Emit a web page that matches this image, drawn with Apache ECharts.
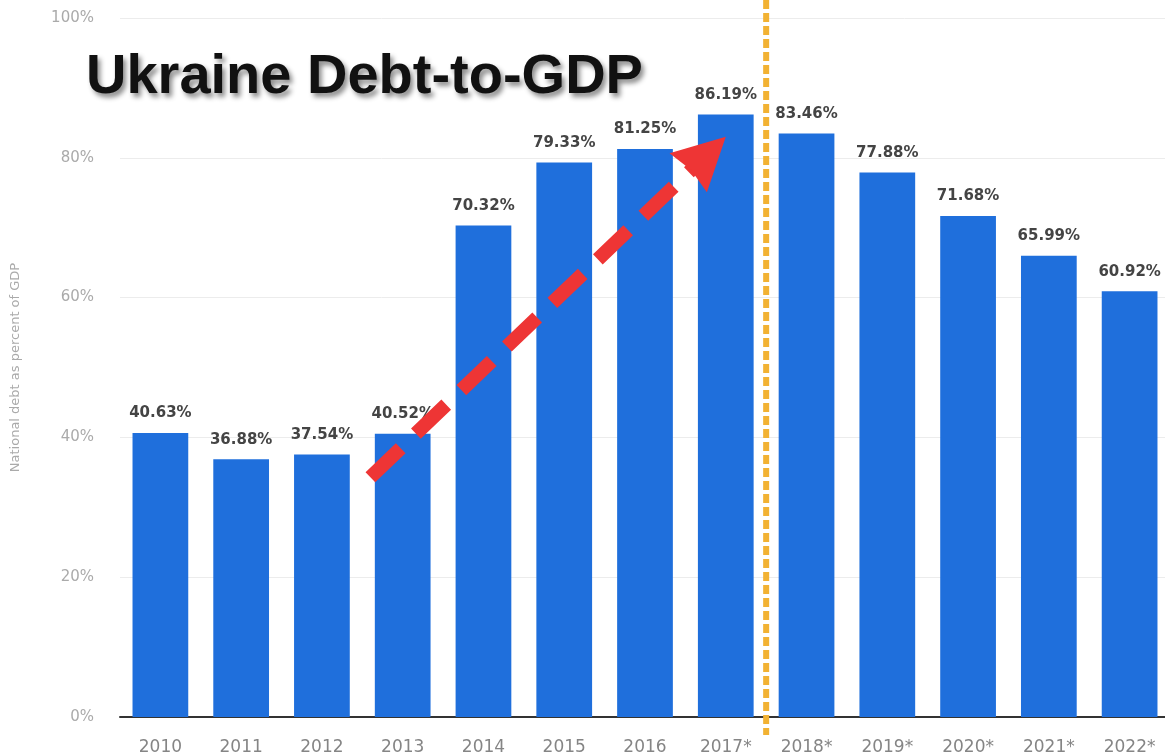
<!DOCTYPE html>
<html>
<head>
<meta charset="utf-8">
<script src="https://cdn.jsdelivr.net/npm/echarts@6/dist/echarts.min.js"></script>
<style>html,body{margin:0;padding:0;background:#fff;}#c{width:1165px;height:755px;}</style>
</head>
<body>
<div id="c"></div>
<script>
const categories = ['2010','2011','2012','2013','2014','2015','2016','2017*','2018*','2019*','2020*','2021*','2022*'];
const debtPct = [40.63, 36.88, 37.54, 40.52, 70.32, 79.33, 81.25, 86.19, 83.46, 77.88, 71.68, 65.99, 60.92];
const yTicks = [0, 20, 40, 60, 80, 100];
// annotation positions in data space (category index, percent)
const arrowFrom = [2.6, 34.3];
const arrowTip = [7.0, 83.0];
const dividerAt = 7.5;

const chart = echarts.init(document.getElementById('c'), null, {renderer: 'canvas'});
const option = {
  animation: false,
  backgroundColor: '#ffffff',
  title: {
    text: 'Ukraine Debt-to-GDP',
    left: 81, top: 45,
    textStyle: {
      fontFamily: 'Liberation Sans, Arial, sans-serif',
      fontSize: 56, fontWeight: 'bold', color: '#111',
      textShadowColor: 'rgba(0,0,0,0.45)', textShadowBlur: 5,
      textShadowOffsetX: 3, textShadowOffsetY: 4
    }
  },
  grid: {left: 120, top: 18, width: 1050, height: 699, containLabel: false, outerBoundsMode: 'none'},
  xAxis: [{
    type: 'category', data: categories,
    axisLine: {show: true, lineStyle: {color: '#333', width: 2}},
    axisTick: {show: false},
    axisLabel: {color: '#858585', fontSize: 17, fontFamily: 'DejaVu Sans', margin: 22}
  }, {
    type: 'value', min: -0.5, max: categories.length - 0.5, show: false
  }],
  yAxis: {
    type: 'value', min: yTicks[0], max: yTicks[yTicks.length - 1], interval: 20,
    name: 'National debt as percent of GDP', nameLocation: 'middle', nameGap: 98,
    nameTextStyle: {color: '#aaa', fontSize: 13, fontFamily: 'DejaVu Sans'},
    axisLine: {show: false}, axisTick: {show: false},
    axisLabel: {color: '#aaa', fontSize: 15, fontFamily: 'DejaVu Sans', margin: 26, formatter: v => v + '%'},
    splitLine: {show: true, lineStyle: {color: '#ececec', width: 1}}
  },
  series: [{
    type: 'bar', data: debtPct, xAxisIndex: 0,
    barCategoryGap: '31%',
    itemStyle: {color: '#1f6fdc'},
    label: {
      show: true, position: 'top', distance: 12,
      color: '#444', fontSize: 15, fontWeight: 'bold', fontFamily: 'DejaVu Sans',
      formatter: p => p.value.toFixed(2) + '%'
    }
  }]
};
chart.setOption(option);

const xDiv = chart.convertToPixel({xAxisIndex: 1}, dividerAt);
const p0 = chart.convertToPixel({xAxisIndex: 1, yAxisIndex: 0}, arrowFrom);
const p1 = chart.convertToPixel({xAxisIndex: 1, yAxisIndex: 0}, arrowTip);
const dx = p1[0] - p0[0], dy = p1[1] - p0[1];
const len = Math.sqrt(dx * dx + dy * dy);
const ux = dx / len, uy = dy / len, px = -uy, py = ux;
const headLen = 52, headHalf = 27, notch = 4;
const bx = p1[0] - ux * headLen, by = p1[1] - uy * headLen;
const lineEnd = [p1[0] - ux * (headLen - notch - 2), p1[1] - uy * (headLen - notch - 2)];
const red = '#ee3535';
chart.setOption({
  graphic: [{
    type: 'line', z: 30, silent: true,
    shape: {x1: p0[0], y1: p0[1], x2: lineEnd[0], y2: lineEnd[1]},
    style: {stroke: red, lineWidth: 14, lineDash: [42, 21], lineCap: 'butt'}
  }, {
    type: 'polygon', z: 31, silent: true,
    shape: {points: [
      p1,
      [bx + px * headHalf, by + py * headHalf],
      [bx + ux * notch, by + uy * notch],
      [bx - px * headHalf, by - py * headHalf]
    ]},
    style: {fill: red}
  }, {
    type: 'line', z: 20, silent: true,
    shape: {x1: xDiv, y1: 0, x2: xDiv, y2: 735},
    style: {stroke: '#f2b233', lineWidth: 6, lineDash: [9, 4]}
  }]
});
</script>
</body>
</html>
